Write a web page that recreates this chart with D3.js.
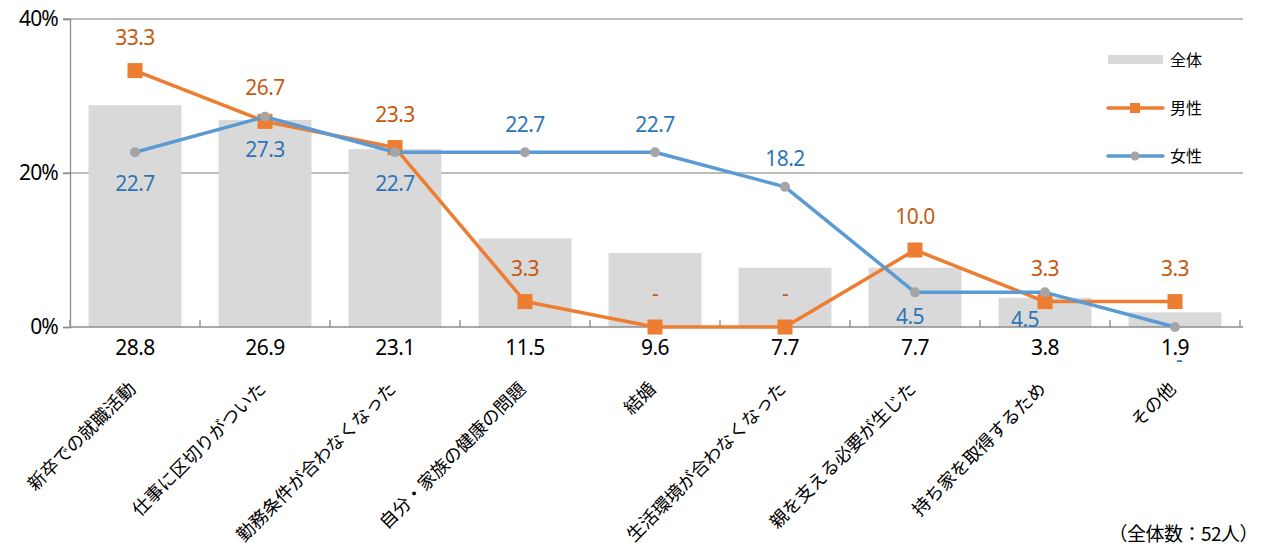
<!DOCTYPE html>
<html><head><meta charset="utf-8">
<script src="https://cdn.jsdelivr.net/npm/d3@7"></script>
<style>
body{margin:0;background:#fff;}
svg{display:block;font-family:"Noto Sans CJK JP","Noto Sans",sans-serif;}
.num{font-family:"Noto Sans","DejaVu Sans",sans-serif;}
</style></head><body>
<svg id="chart" width="1261" height="547"></svg>
<script>
const categories = ["新卒での就職活動","仕事に区切りがついた","勤務条件が合わなくなった","自分・家族の健康の問題","結婚","生活環境が合わなくなった","親を支える必要が生じた","持ち家を取得するため","その他"];
const totalValues = [28.8, 26.9, 23.1, 11.5, 9.6, 7.7, 7.7, 3.8, 1.9];
const maleValues = [33.3, 26.7, 23.3, 3.3, 0, 0, 10.0, 3.3, 3.3];
const femaleValues = [22.7, 27.3, 22.7, 22.7, 22.7, 18.2, 4.5, 4.5, 0];
const yTicks = [0, 20, 40];
const seriesNames = ["全体","男性","女性"];
const note = "（全体数：52人）";

// label offsets (dx, dy) relative to each point, in pixels
const maleLabelOffset = categories.map(() => [0, -26]);
const femaleLabelOffset = [[0, 39], [0, 40], [0, 39], [0, -20], [0, -20], [0, -21], [-5, 32], [-20, 35], [4, 40]];

const svg = d3.select("#chart");
const plotLeft = 70, plotRight = 1240, plotTop = 19, plotBottom = 327;

const x = d3.scaleBand().domain(categories).range([plotLeft, plotRight]).paddingInner(0.285).paddingOuter(0.1425);
const xc = d3.scaleBand().domain(categories).range([plotLeft, plotRight]);
const y = d3.scaleLinear().domain([0, 40]).range([plotBottom, plotTop]);
const cx = c => xc(c) + xc.bandwidth() / 2;

// gridlines
svg.append("g").selectAll("line").data(yTicks.filter(t => t > 0)).join("line")
  .attr("x1", 63).attr("x2", 1243).attr("y1", d => y(d)).attr("y2", d => y(d))
  .attr("stroke", "#a6a6a6").attr("stroke-width", 1.3);

// bars (全体)
svg.append("g").selectAll("rect").data(categories).join("rect")
  .attr("x", d => x(d)).attr("width", x.bandwidth())
  .attr("y", (d, i) => y(totalValues[i])).attr("height", (d, i) => y(0) - y(totalValues[i]))
  .attr("fill", "#d9d9d9");

// y axis
const yAxis = svg.append("g").attr("transform", `translate(${plotLeft},0)`)
  .call(d3.axisLeft(y).tickValues(yTicks).tickSize(7).tickFormat(d => d + "%"));
yAxis.select(".domain").attr("stroke", "#8c8c8c").attr("stroke-width", 1.3);
yAxis.selectAll(".tick line").attr("stroke", "#8c8c8c").attr("stroke-width", 1.3);
yAxis.selectAll(".tick text").attr("class", "num").attr("x", -12).attr("font-size", 21).attr("fill", "#000")
  .attr("letter-spacing", "-0.8px");

// x axis
const xAxis = svg.append("g").attr("transform", `translate(0,${plotBottom})`)
  .call(d3.axisBottom(xc).tickSize(0).tickFormat(""));
xAxis.select(".domain").attr("stroke", "#8c8c8c").attr("stroke-width", 1.3).attr("d", `M${plotLeft},0H${plotRight + 3}`);
svg.append("g").selectAll("line").data(d3.range(categories.length + 1)).join("line")
  .attr("x1", i => plotLeft + i * xc.step()).attr("x2", i => plotLeft + i * xc.step())
  .attr("y1", plotBottom - 7).attr("y2", plotBottom).attr("stroke", "#8c8c8c").attr("stroke-width", 1.3);

// overall values under the axis
svg.append("g").selectAll("text").data(categories).join("text")
  .attr("class", "num")
  .attr("x", d => cx(d)).attr("y", 355).attr("text-anchor", "middle")
  .attr("font-size", 21).attr("letter-spacing", "-0.6px").attr("fill", "#000")
  .text((d, i) => totalValues[i].toFixed(1));

// category labels, rotated
svg.append("g").selectAll("text").data(categories).join("text")
  .attr("transform", d => `translate(${cx(d) + 2},390) rotate(-45)`)
  .attr("text-anchor", "end").attr("font-size", 18).attr("fill", "#000")
  .text(d => d);

// lines and markers
const line = d3.line().x(d => cx(d[0])).y(d => y(d[1]));
svg.append("path").datum(categories.map((c, i) => [c, maleValues[i]]))
  .attr("d", line).attr("fill", "none").attr("stroke", "#ed7d31").attr("stroke-width", 3.5).attr("stroke-linejoin", "round");
svg.append("g").selectAll("rect").data(categories).join("rect")
  .attr("x", d => cx(d) - 7.5).attr("y", (d, i) => y(maleValues[i]) - 7.5)
  .attr("width", 15).attr("height", 15).attr("fill", "#ed7d31");

svg.append("path").datum(categories.map((c, i) => [c, femaleValues[i]]))
  .attr("d", line).attr("fill", "none").attr("stroke", "#5b9bd5").attr("stroke-width", 3.5).attr("stroke-linejoin", "round");
svg.append("g").selectAll("circle").data(categories).join("circle")
  .attr("cx", d => cx(d)).attr("cy", (d, i) => y(femaleValues[i])).attr("r", 5).attr("fill", "#a5a5a5");

// data labels
function labels(values, offsets, color) {
  svg.append("g").selectAll("text").data(categories).join("text")
    .attr("class", "num")
    .attr("x", (d, i) => cx(d) + offsets[i][0])
    .attr("y", (d, i) => y(values[i]) + offsets[i][1])
    .attr("text-anchor", "middle").attr("font-size", 21).attr("letter-spacing", "-0.6px")
    .attr("fill", color)
    .text((d, i) => values[i] === 0 ? "-" : values[i].toFixed(1));
}
labels(maleValues, maleLabelOffset, "#c55a11");
labels(femaleValues, femaleLabelOffset, "#2e75b6");

// legend
const lg = svg.append("g");
lg.append("rect").attr("x", 1108).attr("y", 55).attr("width", 55).attr("height", 9).attr("fill", "#d9d9d9");
lg.append("line").attr("x1", 1108).attr("x2", 1163).attr("y1", 108).attr("y2", 108).attr("stroke", "#ed7d31").attr("stroke-width", 3.5).attr("stroke-linecap", "round");
lg.append("rect").attr("x", 1130).attr("y", 103).attr("width", 10).attr("height", 10).attr("fill", "#ed7d31");
lg.append("line").attr("x1", 1108).attr("x2", 1163).attr("y1", 156).attr("y2", 156).attr("stroke", "#5b9bd5").attr("stroke-width", 3.5).attr("stroke-linecap", "round");
lg.append("circle").attr("cx", 1135).attr("cy", 156).attr("r", 4.5).attr("fill", "#a5a5a5");
lg.selectAll("text").data(seriesNames).join("text")
  .attr("x", 1170).attr("y", (d, i) => 60 + i * 48).attr("dy", "0.36em")
  .attr("font-size", 16).attr("fill", "#000").text(d => d);

svg.append("text").attr("x", 1258).attr("y", 541).attr("text-anchor", "end")
  .attr("font-size", 19).attr("fill", "#000").attr("letter-spacing", "-0.5px").text(note);
</script>
</body></html>
